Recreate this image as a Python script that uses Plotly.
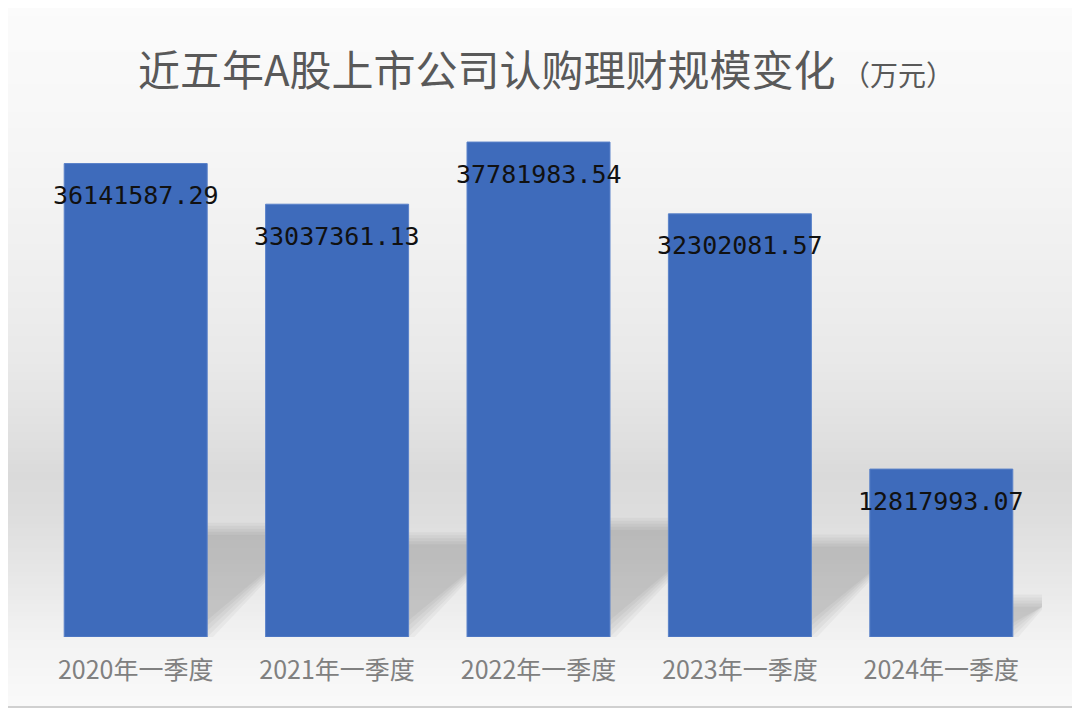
import plotly.graph_objects as go
import numpy as np

# ---------------- data ----------------
categories = ["2020年一季度", "2021年一季度", "2022年一季度", "2023年一季度", "2024年一季度"]
values = [36141587.29, 33037361.13, 37781983.54, 32302081.57, 12817993.07]
title_main = "近五年A股上市公司认购理财规模变化"
title_unit = "（万元）"

# ---------------- geometry ----------------
# the page body adds an 8px offset, so the figure is drawn 8px smaller
OFF = 8
W, H = 1080 - OFF, 713 - OFF
ML, MR, MT, MB = 35 - OFF, 38, 113 - OFF, 76
YMAX = 40e6
plot_w = W - ML - MR
plot_h = H - MT - MB
step_px = plot_w / len(categories)
px_per_unit = plot_h / YMAX


def xp(xref_px):
    return (xref_px - OFF - ML) / plot_w


def yp(yref_px):
    return (H - MB - (yref_px - OFF)) / plot_h


fig = go.Figure()

fig.add_trace(go.Bar(
    x=categories,
    y=values,
    marker=dict(color="#3e6bbb", line=dict(color="#5a82c9", width=1)),
    hoverinfo="x+y",
))

shapes = []

# background vertical gradient (decor)
stops_y = [0, 100, 180, 270, 360, 430, 475, 520, 580, 636, 680, 713]
stops_g = [251, 248, 244, 239, 233, 225, 218, 222, 232, 242, 247, 250]
step = 4
for y0 in range(OFF, 707, step):
    y1 = min(y0 + step, 707)
    g = int(round(np.interp((y0 + y1) / 2, stops_y, stops_g)))
    shapes.append(dict(
        type="rect", xref="paper", yref="paper", layer="below",
        x0=xp(OFF), x1=xp(1075), y0=yp(y1), y1=yp(y0),
        fillcolor=f"rgb({g},{g},{g})", line=dict(width=0),
    ))

# soft perspective shadows behind bars (decor)
half = 0.355
for i, v in enumerate(values):
    hs = 0.235 * v
    d = hs * px_per_unit / step_px
    for e in [-9, -6, -3, 0, 3]:
        ex = e / step_px
        ey = e / px_per_unit
        xl, xr = i - half - ex, i + half + ex
        top = hs + ey
        path = (f"M {xl},{-ey} L {xr},{-ey} L {xr + d},{top} "
                f"L {xl + d},{top} Z")
        shapes.append(dict(
            type="path", xref="x", yref="y", layer="below", path=path,
            fillcolor="rgba(0,0,0,0.034)", line=dict(width=0),
        ))

# outer border (right and bottom edges are the visible ones)
shapes.append(dict(
    type="path", xref="paper", yref="paper", layer="above",
    path=f"M {xp(OFF)},{yp(707)} L {xp(1075)},{yp(707)} L {xp(1075)},{yp(OFF)}",
    line=dict(color="#d0d0d0", width=2),
))

annotations = []
for c, v in zip(categories, values):
    annotations.append(dict(
        x=c, y=v, xref="x", yref="y", text=f"{v:.2f}", showarrow=False,
        yshift=-32, xanchor="center", yanchor="middle",
        font=dict(family="DejaVu Sans Mono", size=25, color="#111111"),
    ))

fig.update_layout(
    width=W, height=H,
    margin=dict(l=ML, r=MR, t=MT, b=MB, pad=0),
    paper_bgcolor="white",
    plot_bgcolor="rgba(0,0,0,0)",
    bargap=0.29,
    showlegend=False,
    title=dict(
        text=f"{title_main}<span style='font-size:28px'> {title_unit}</span>",
        x=(546 - OFF) / W, xanchor="center", y=1 - (71 - OFF) / H, yanchor="middle",
        font=dict(family="Noto Sans CJK SC", size=42, color="#595959"),
    ),
    xaxis=dict(
        showgrid=False, zeroline=False, showline=False, ticks="",
        ticklabelstandoff=16,
        tickfont=dict(family="Noto Sans CJK SC", size=25, color="#808080"),
        range=[-0.5, len(categories) - 0.5],
    ),
    yaxis=dict(
        range=[0, YMAX], visible=False, showgrid=False, zeroline=False,
    ),
    shapes=shapes,
    annotations=annotations,
)

fig.write_html("out.html")
